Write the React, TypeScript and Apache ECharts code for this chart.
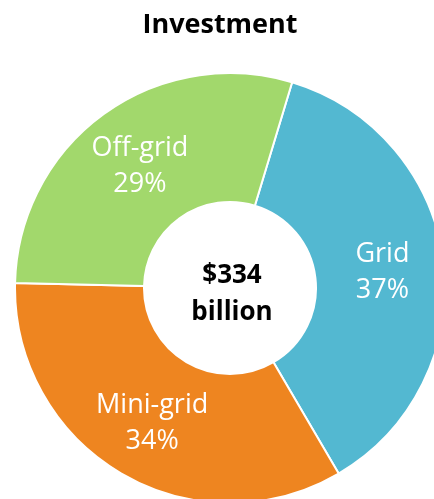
import React, { useEffect, useRef } from "react";
import * as echarts from "echarts";

const categories = ["Grid", "Mini-grid", "Off-grid"];
const shares = [36.9, 33.8, 29.3];
const colors = ["#53b8d1", "#ee8520", "#a2d86c"];
const titleText = "Investment";
const centerText = "$334\nbillion";

export default function App() {
  const ref = useRef<HTMLDivElement>(null);
  useEffect(() => {
    if (!ref.current) return;
    const chart = echarts.init(ref.current, undefined, { renderer: "svg" });
    chart.setOption({
      animation: false,
      title: {
        text: titleText,
        left: 215,
        textAlign: "center",
        top: 4,
        textStyle: {
          fontFamily: "Open Sans",
          fontWeight: "bold",
          fontSize: 27,
          color: "#000",
        },
      },
      graphic: [
        {
          type: "text",
          x: 232,
          y: 291,
          style: {
            text: centerText,
            fontFamily: "Open Sans",
            fontWeight: "bold",
            fontSize: 26,
            lineHeight: 37,
            fill: "#000",
            textAlign: "center",
            textVerticalAlign: "middle",
          },
        },
      ],
      series: [
        {
          type: "pie",
          center: [230, 288],
          radius: [86, 215],
          startAngle: 73.2,
          clockwise: true,
          avoidLabelOverlap: false,
          itemStyle: { borderColor: "#fff", borderWidth: 2 },
          label: {
            show: true,
            position: "inside",
            formatter: (p: any) => `${p.name}\n${Math.round(p.value)}%`,
            color: "#fff",
            fontFamily: "Open Sans",
            fontSize: 27,
            lineHeight: 36,
          },
          labelLine: { show: false },
          emphasis: { disabled: true },
          data: categories.map((c, i) => ({
            name: c,
            value: shares[i],
            itemStyle: { color: colors[i] },
          })),
        },
      ],
    });
    return () => chart.dispose();
  }, []);
  return (
    <div
      ref={ref}
      style={{ position: "fixed", left: 0, top: 0, width: 434, height: 499 }}
    />
  );
}
